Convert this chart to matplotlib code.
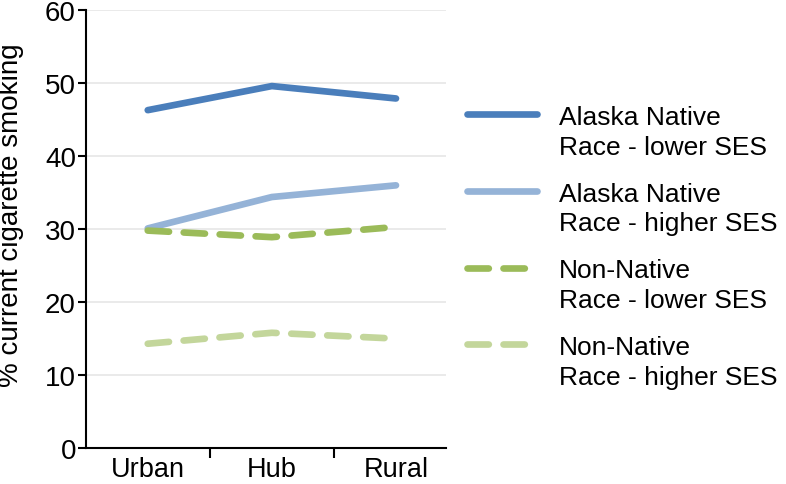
import matplotlib.pyplot as plt

plt.rcParams['font.family'] = ['Liberation Sans', 'DejaVu Sans']

regions = ["Urban", "Hub", "Rural"]
an_lower = [46.3, 49.6, 47.9]
an_higher = [30.1, 34.4, 36.0]
nn_lower = [29.8, 28.9, 30.3]
nn_higher = [14.3, 15.8, 15.0]
labels = ["Alaska Native\nRace - lower SES", "Alaska Native\nRace - higher SES",
          "Non-Native\nRace - lower SES", "Non-Native\nRace - higher SES"]

fig = plt.figure(figsize=(7.86, 4.85), dpi=100)
ax = fig.add_axes([0.109, 0.074, 0.458, 0.903])

x = [0.5, 1.5, 2.5]
ax.plot(x, an_lower, color='#4a7ebb', lw=4.8, solid_capstyle='round', label=labels[0])
ax.plot(x, an_higher, color='#95b3d7', lw=4.8, solid_capstyle='round', label=labels[1])
ax.plot(x, nn_lower, color='#9bbb59', lw=4.8, dashes=(3.2, 2.2), dash_capstyle='round', label=labels[2])
ax.plot(x, nn_higher, color='#c3d69b', lw=4.8, dashes=(3.2, 2.2), dash_capstyle='round', label=labels[3])

ax.set_xlim(0, 2.9)
ax.set_ylim(0, 60)
ax.set_yticks(range(0, 61, 10))
ax.set_xticks([1, 2])
ax.set_xticklabels([])
ax.set_xticks(x, minor=True)
ax.set_xticklabels(regions, minor=True, fontsize=19.5)
ax.tick_params(axis='x', which='minor', length=0, pad=6)
ax.tick_params(axis='x', which='major', length=7, width=1.5)
ax.tick_params(axis='y', length=6, width=1.5, labelsize=20, pad=1)
for yv in range(10, 61, 10):
    ax.axhline(yv, color='#e6e6e6', lw=1.2, zorder=0)
for s in ['top', 'right']:
    ax.spines[s].set_visible(False)
for s in ['left', 'bottom']:
    ax.spines[s].set_linewidth(1.5)
ax.set_ylabel("% current cigarette smoking", fontsize=20)
ax.yaxis.set_label_coords(-0.17, 0.534)

leg = fig.legend(loc='center left', bbox_to_anchor=(0.564, 0.489), frameon=False, fontsize=19,
                 handlelength=2.65, handletextpad=0.83, labelspacing=0.87)
# put each handle next to the first line of its label
for col in leg._legend_handle_box.get_children():
    for row in col.get_children():
        row.align = 'top'
for t in leg.get_texts():
    t.set_linespacing(1.3)

fig.savefig('out.png', dpi=100)
